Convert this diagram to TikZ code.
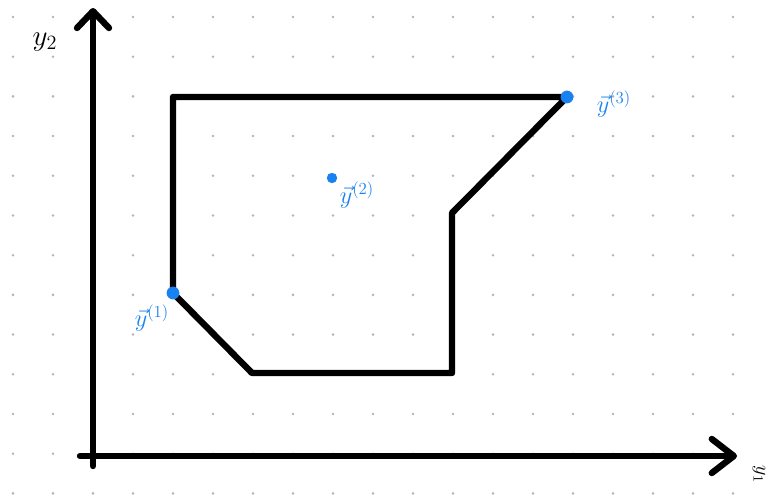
\documentclass[tikz,border=0pt]{standalone}
\usepackage{amsmath}
\usepackage{tikz}
\usetikzlibrary{arrows.meta}
\definecolor{ptblue}{HTML}{1A82F0}
\definecolor{griddot}{HTML}{B4B4B4}

\begin{document}
\begin{tikzpicture}[x=0.025cm, y=-0.025cm,
    axis/.style={line width=0.16cm, line cap=round, line join=round},
    hull/.style={line width=0.16cm, line cap=round, line join=round},
    pt/.style={circle, fill=ptblue, inner sep=0pt, minimum size=0.32cm},
    ptlabel/.style={text=ptblue, font=\LARGE}]
  % Page and dot grid
  \clip (0,0) rectangle (771,498);
  \fill[white] (0,0) rectangle (771,498);
  \foreach \i in {0,...,19}{
    \foreach \j in {0,...,12}{
      \fill[griddot] (13+40*\i, 17+39.7*\j) circle (0.035cm);
    }
  }

  % Axes
  \coordinate (o1) at (80,456);
  \coordinate (xend) at (737,456);
  \coordinate (o2) at (93,466);
  \coordinate (yend) at (93,8);
  \draw[axis, -{Straight Barb[round, length=0.55cm, width=0.85cm]}] (o1) -- (xend);
  \draw[axis, -{Straight Barb[round, length=0.42cm, width=0.8cm]}] (o2) -- (yend);
  \node[font=\huge] (ylab) at (45,42) {$y_2$};
  \node[font=\Large, anchor=north west, rotate=-90, inner sep=1pt] (xlab) at (767,464) {$y_1$};

  % Polygon
  \coordinate (a) at (173,97);
  \coordinate (b) at (567,97);
  \coordinate (c) at (452,213);
  \coordinate (d) at (452,373);
  \coordinate (e) at (252,373);
  \coordinate (f) at (173,293);
  \draw[hull] (a) -- (b) -- (c) -- (d) -- (e) -- (f) -- cycle;

  % Points
  \node[pt] (y1) at (f) {};
  \node[pt, minimum size=0.26cm] (y2) at (332,178) {};
  \node[pt] (y3) at (b) {};
  \node[ptlabel] (l1) at (152,318) {$\vec{y}^{(1)}$};
  \node[ptlabel] (l2) at (357,195) {$\vec{y}^{(2)}$};
  \node[ptlabel] (l3) at (614,104) {$\vec{y}^{(3)}$};
\end{tikzpicture}
\end{document}
